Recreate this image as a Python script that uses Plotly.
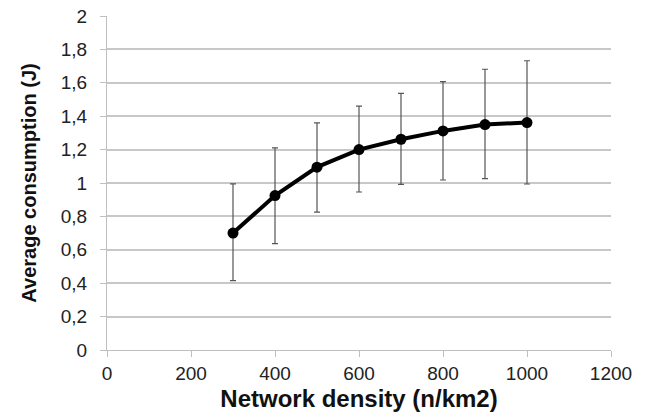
import plotly.graph_objects as go

density = [300, 400, 500, 600, 700, 800, 900, 1000]
consumption = [0.70, 0.925, 1.095, 1.20, 1.262, 1.312, 1.35, 1.362]
err_upper = [0.995, 1.21, 1.36, 1.46, 1.537, 1.607, 1.681, 1.732]
err_lower = [0.415, 0.637, 0.826, 0.946, 0.992, 1.018, 1.026, 0.994]
x_ticks = [0, 200, 400, 600, 800, 1000, 1200]
y_ticks = [0, 0.2, 0.4, 0.6, 0.8, 1, 1.2, 1.4, 1.6, 1.8, 2]
y_labels = ["0", "0,2", "0,4", "0,6", "0,8", "1", "1,2", "1,4", "1,6", "1,8", "2"]

plus = [u - c for u, c in zip(err_upper, consumption)]
minus = [c - l for c, l in zip(consumption, err_lower)]

fig = go.Figure()
fig.add_trace(go.Scatter(
    x=density, y=consumption, mode="lines+markers",
    line=dict(color="black", width=4),
    marker=dict(color="black", size=11),
    error_y=dict(type="data", symmetric=False, array=plus, arrayminus=minus,
                 color="#555555", thickness=1.2, width=3),
    showlegend=False,
))

fig.update_layout(
    width=646, height=419,
    margin=dict(l=107, r=35, t=16, b=69),
    paper_bgcolor="white", plot_bgcolor="white",
    separators=", ",
    font=dict(family="Liberation Sans, Arial, sans-serif", color="#222222", size=16),
    xaxis=dict(
        range=[0, 1200], tickvals=x_ticks, automargin=False,
        showgrid=False, zeroline=False,
        showline=True, linecolor="#bfbfbf", linewidth=1,
        ticks="outside", tickcolor="#bfbfbf", ticklen=6,
        tickfont=dict(size=19),
        title=dict(text="<b>Network density (n/km2)</b>", font=dict(size=24, color="#111111"), standoff=7),
    ),
    yaxis=dict(
        range=[0, 2], tickvals=y_ticks, ticktext=y_labels, automargin=False,
        showgrid=True, gridcolor="#c8c8c8", gridwidth=1.5, zeroline=False,
        showline=True, linecolor="#bfbfbf", linewidth=1,
        ticks="outside", tickcolor="#bfbfbf", ticklen=6,
        ticklabelstandoff=9,
        tickfont=dict(size=19),
        title=dict(text="<b>Average consumption (J)</b>", font=dict(size=20, color="#111111"), standoff=18),
    ),
)

fig.write_html("out.html", config={"displayModeBar": False},
               post_script="document.body.style.margin='0';document.body.style.overflow='hidden';")
